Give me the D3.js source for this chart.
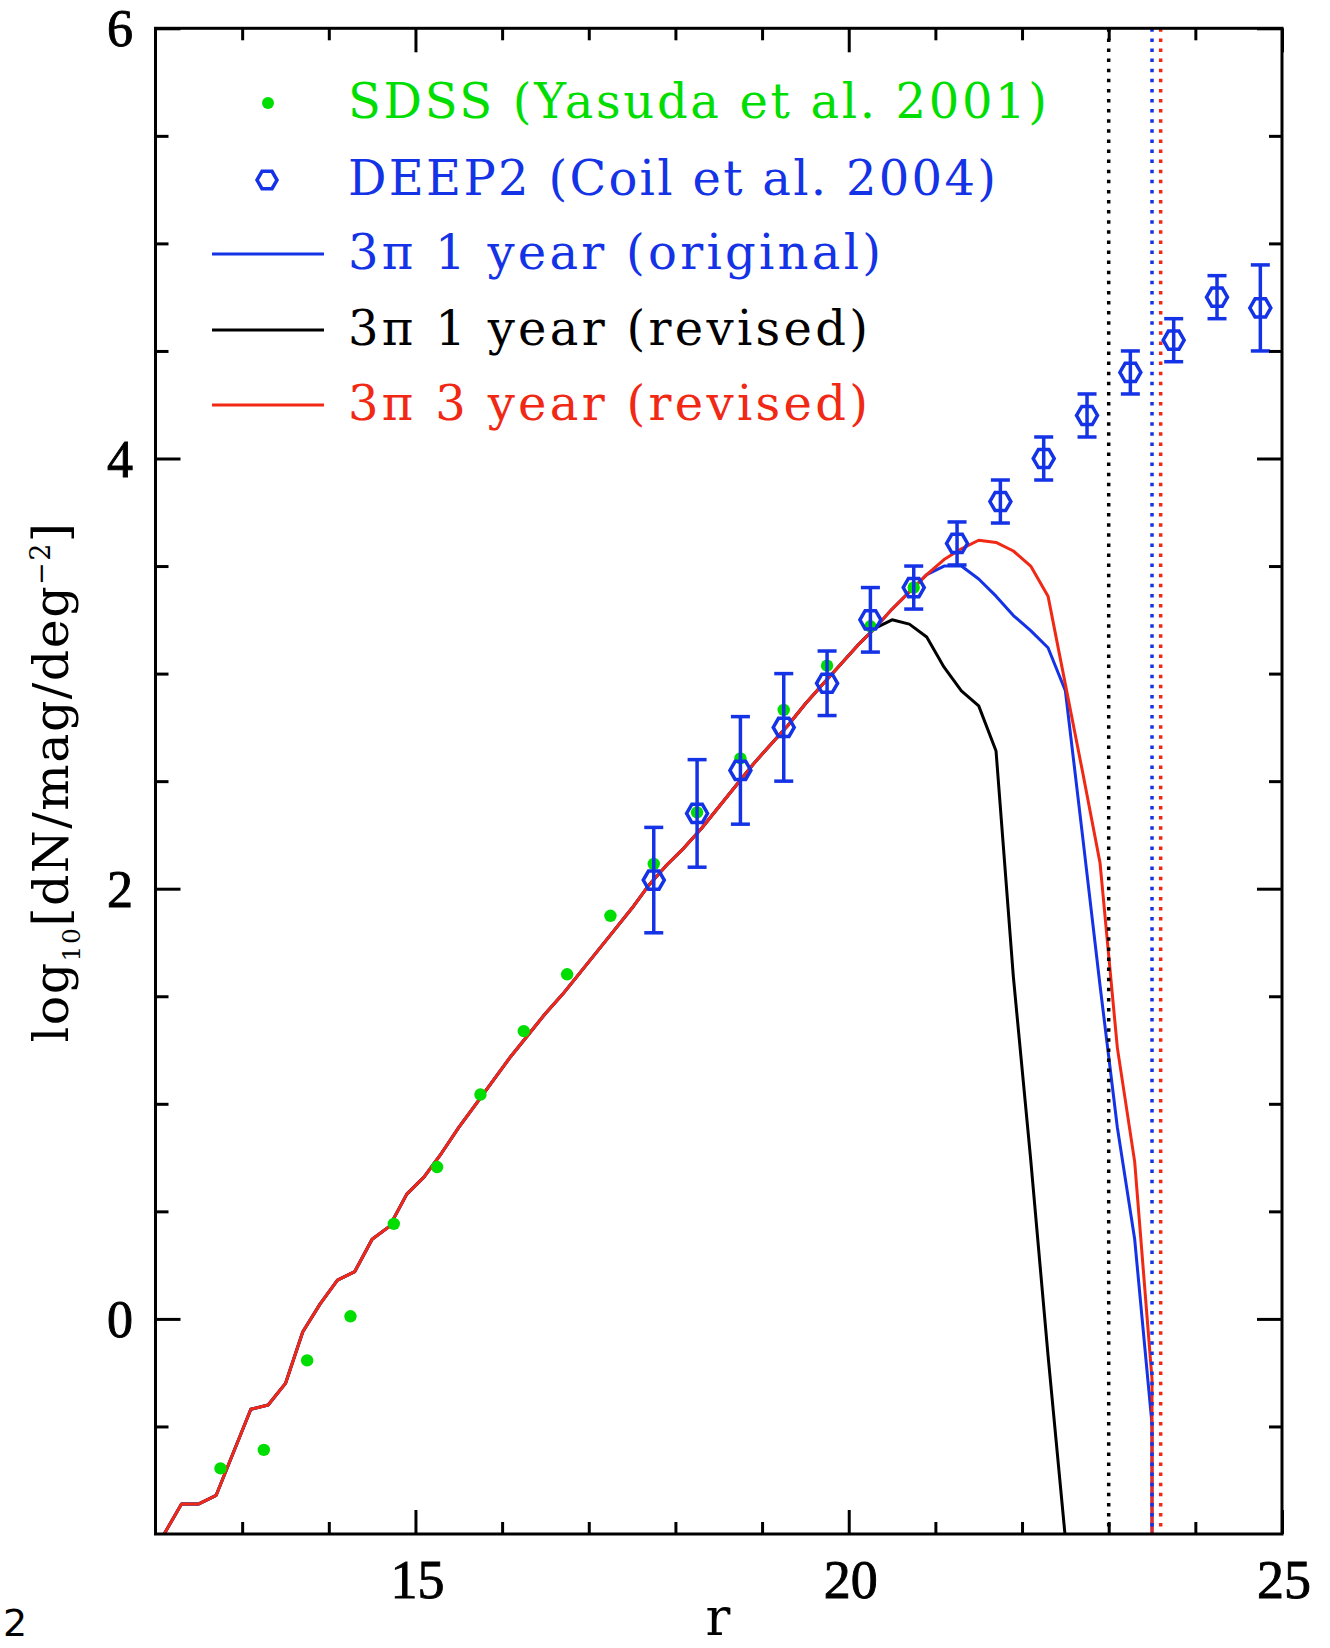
<!DOCTYPE html>
<html><head><meta charset="utf-8">
<script src="https://cdn.jsdelivr.net/npm/d3@7"></script>
<style>html,body{margin:0;padding:0;background:#fff;} svg{display:block;}</style>
</head><body>
<script>
// ---------- data ----------
const rGrid = [12.1,12.3,12.5,12.7,12.9,13.1,13.3,13.5,13.7,13.9,14.1,14.3,14.5,14.7,14.9,15.1,15.3,15.5,15.7,15.9,
  16.1,16.3,16.5,16.7,16.9,17.1,17.3,17.5,17.7,17.9,18.1,18.3,18.5,18.7,18.9,19.1,19.3,19.5,19.7,19.9,
  20.1,20.3,20.5,20.7,20.9,21.1,21.3,21.5,21.7,21.9,22.1,22.3,22.5,22.7,22.9,23.1,23.3,23.5];
const logRed = [-1.00,-0.86,-0.86,-0.82,-0.62,-0.42,-0.40,-0.30,-0.06,0.07,0.18,0.22,0.37,0.43,0.58,0.66,0.77,0.89,1.00,1.11,
  1.22,1.32,1.42,1.51,1.61,1.71,1.81,1.91,2.02,2.11,2.19,2.28,2.38,2.48,2.58,2.67,2.76,2.86,2.95,3.04,
  3.13,3.21,3.30,3.38,3.46,3.53,3.58,3.62,3.61,3.57,3.50,3.36,2.95,2.54,2.12,1.26,0.73,-0.28];
const logBlue = [-1.00,-0.86,-0.86,-0.82,-0.62,-0.42,-0.40,-0.30,-0.06,0.07,0.18,0.22,0.37,0.43,0.58,0.66,0.77,0.89,1.00,1.11,
  1.22,1.32,1.42,1.51,1.61,1.71,1.81,1.91,2.02,2.11,2.19,2.28,2.38,2.48,2.58,2.67,2.76,2.86,2.95,3.04,
  3.13,3.21,3.30,3.38,3.46,3.50,3.50,3.44,3.36,3.27,3.20,3.12,2.92,2.24,1.55,0.89,0.37,-0.49];
const logBlack = [-1.00,-0.86,-0.86,-0.82,-0.62,-0.42,-0.40,-0.30,-0.06,0.07,0.18,0.22,0.37,0.43,0.58,0.66,0.77,0.89,1.00,1.11,
  1.22,1.32,1.42,1.51,1.61,1.71,1.81,1.91,2.02,2.11,2.19,2.28,2.38,2.48,2.58,2.67,2.76,2.86,2.95,3.04,
  3.13,3.21,3.25,3.23,3.17,3.03,2.92,2.85,2.64,1.59,0.74,-0.17,-1.02];
// completeness cut-off: the model drops to zero counts right after its last bin
const dropEndR = 23.5;
const dropEndLog = -3;

const sdssR   = [12.75,13.25,13.75,14.25,14.75,15.25,15.75,16.25,16.75,17.25,17.75,18.25,18.75,19.25,19.75,20.25,20.75];
const sdssLog = [-0.695,-0.609,-0.193,0.012,0.442,0.706,1.043,1.338,1.602,1.874,2.115,2.355,2.606,2.831,3.037,3.22,3.40];

const deepR   = [17.75,18.25,18.75,19.25,19.75,20.25,20.75,21.25,21.75,22.25,22.75,23.25,23.75,24.25,24.75];
const deepLog = [2.04,2.35,2.55,2.75,2.955,3.25,3.40,3.605,3.80,4.00,4.20,4.40,4.55,4.75,4.70];
const deepErr = [0.245,0.25,0.25,0.25,0.15,0.15,0.10,0.10,0.10,0.10,0.10,0.10,0.10,0.10,0.20];

const limitMags   = [23.0, 23.5, 23.6];
const xMajorTicks = [15, 20, 25];
const xMinorTicks = [13,14,16,17,18,19,21,22,23,24];
const yMajorTicks = [0, 2, 4, 6];
const yMinorTicks = [-0.5,0.5,1,1.5,2.5,3,3.5,4.5,5,5.5];
const legendLabels = ["SDSS (Yasuda et al. 2001)", "DEEP2 (Coil et al. 2004)",
  "3\u03c0 1 year (original)", "3\u03c0 1 year (revised)", "3\u03c0 3 year (revised)"];

// ---------- style ----------
const GREEN = "#00dd00", BLUE = "#1432e6", RED = "#f02814", BLACK = "#000";
const FONT = "'Liberation Serif', 'Times New Roman', serif";
const FONT2 = "'DejaVu Serif', serif";

const W = 1330, H = 1648;
const svg = d3.select("body").append("svg").attr("width", W).attr("height", H)
  .style("background", "#fff");

const x = d3.scaleLinear().domain([12, 25]).range([155.5, 1282]);
const y = d3.scaleLinear().domain([-1, 6]).range([1534, 28.3]);
const [x0, x1] = x.range(); const [y0, y1] = y.range();

svg.append("defs").append("clipPath").attr("id", "plotclip")
  .append("rect").attr("x", x0).attr("y", y1).attr("width", x1 - x0).attr("height", y0 - y1);

const plot = svg.append("g").attr("clip-path", "url(#plotclip)");

// ---------- model curves ----------
const line = d3.line().x(d => x(d[0])).y(d => y(d[1]));
function series(vals, withDrop) {
  const pts = vals.map((v, i) => [rGrid[i], v]);
  if (withDrop) pts.push([dropEndR, dropEndLog]);
  return pts;
}
plot.append("path").datum(series(logBlack, false)).attr("d", line)
  .attr("fill", "none").attr("stroke", BLACK).attr("stroke-width", 3).attr("stroke-linejoin", "round");
plot.append("path").datum(series(logBlue, true)).attr("d", line)
  .attr("fill", "none").attr("stroke", BLUE).attr("stroke-width", 3).attr("stroke-linejoin", "round");
plot.append("path").datum(series(logRed, true)).attr("d", line)
  .attr("fill", "none").attr("stroke", RED).attr("stroke-width", 3).attr("stroke-linejoin", "round");

// ---------- limit lines ----------
const limitColors = [BLACK, BLUE, RED];
plot.selectAll("line.limit").data(limitMags).enter().append("line")
  .attr("x1", d => x(d)).attr("x2", d => x(d))
  .attr("y1", y(6)).attr("y2", y(-1))
  .attr("stroke", (d, i) => limitColors[i]).attr("stroke-width", 3.5)
  .attr("stroke-dasharray", "3.5 6.6");

// ---------- SDSS points ----------
plot.selectAll("circle.sdss").data(sdssR).enter().append("circle")
  .attr("cx", d => x(d)).attr("cy", (d, i) => y(sdssLog[i])).attr("r", 6.2)
  .attr("fill", GREEN);

// ---------- DEEP2 points ----------
function hexPath(cx, cy, r) {
  const p = d3.path();
  for (let k = 0; k < 6; k++) {
    const a = k * Math.PI / 3;
    const px = cx + r * Math.cos(a), py = cy + r * Math.sin(a);
    if (k === 0) p.moveTo(px, py); else p.lineTo(px, py);
  }
  p.closePath();
  return p.toString();
}
const deep = plot.append("g").attr("stroke", BLUE).attr("stroke-width", 3.5).attr("fill", "none");
deepR.forEach((r, i) => {
  const cx = x(r), top = y(deepLog[i] + deepErr[i]), bot = y(deepLog[i] - deepErr[i]);
  deep.append("line").attr("x1", cx).attr("x2", cx).attr("y1", top).attr("y2", bot);
  deep.append("line").attr("x1", cx - 9.5).attr("x2", cx + 9.5).attr("y1", top).attr("y2", top);
  deep.append("line").attr("x1", cx - 9.5).attr("x2", cx + 9.5).attr("y1", bot).attr("y2", bot);
  deep.append("path").attr("d", hexPath(cx, y(deepLog[i]), 10.5));
});

// ---------- axes ----------
function tickAxis(gen, tr) {
  const g = svg.append("g").attr("transform", tr).call(gen);
  g.select(".domain").remove();
  g.selectAll(".tick text").remove();
  g.selectAll(".tick line").attr("stroke", "#000").attr("stroke-width", 3);
}
tickAxis(d3.axisBottom(x).tickValues(xMinorTicks).tickSize(-12), `translate(0,${y0})`);
tickAxis(d3.axisBottom(x).tickValues(xMajorTicks).tickSize(-24), `translate(0,${y0})`);
tickAxis(d3.axisTop(x).tickValues(xMinorTicks).tickSize(-12), `translate(0,${y1})`);
tickAxis(d3.axisTop(x).tickValues(xMajorTicks).tickSize(-24), `translate(0,${y1})`);
tickAxis(d3.axisLeft(y).tickValues(yMinorTicks).tickSize(-13), `translate(${x0},0)`);
tickAxis(d3.axisLeft(y).tickValues(yMajorTicks).tickSize(-25), `translate(${x0},0)`);
tickAxis(d3.axisRight(y).tickValues(yMinorTicks).tickSize(-13), `translate(${x1},0)`);
tickAxis(d3.axisRight(y).tickValues(yMajorTicks).tickSize(-25), `translate(${x1},0)`);

svg.append("rect").attr("x", x0).attr("y", y1).attr("width", x1 - x0).attr("height", y0 - y1)
  .attr("fill", "none").attr("stroke", "#000").attr("stroke-width", 3);

// tick labels
svg.selectAll("text.xl").data(xMajorTicks).enter().append("text")
  .attr("x", d => x(d) + 2).attr("y", 1598).attr("text-anchor", "middle")
  .attr("font-family", FONT).attr("font-size", 54)
  .attr("stroke", "#000").attr("stroke-width", 0.9).text(d => d);
svg.selectAll("text.yl").data(yMajorTicks).enter().append("text")
  .attr("x", 133).attr("y", d => y(d) + 18).attr("text-anchor", "end")
  .attr("font-family", FONT).attr("font-size", 52)
  .attr("stroke", "#000").attr("stroke-width", 0.9).text(d => d);

// axis titles
svg.append("text").attr("x", 718).attr("y", 1635).attr("text-anchor", "middle")
  .attr("font-family", FONT2).attr("font-size", 52).text("r");

const yt = svg.append("text").attr("transform", "translate(68,782) rotate(-90)")
  .attr("text-anchor", "middle").attr("font-family", FONT2).attr("font-size", 49)
  .attr("letter-spacing", 1.5);
yt.append("tspan").text("log");
yt.append("tspan").attr("font-size", 25).attr("dy", 12).text("10");
yt.append("tspan").attr("dy", -12).text("[dN/mag/deg");
yt.append("tspan").attr("font-size", 27).attr("dy", -18).text("\u22122");
yt.append("tspan").attr("dy", 18).text("]");

// page fragment at bottom-left corner
svg.append("text").attr("x", 3).attr("y", 1636).attr("font-family", "'DejaVu Sans', sans-serif")
  .attr("font-size", 38).text("2");

// ---------- legend ----------
const legColors = [GREEN, BLUE, BLUE, BLACK, RED];
const legRows = [103, 180, 254, 330, 405];
const legEnds = [1047, 996, 881, 868, 868];
const leg = svg.append("g");
legendLabels.forEach((lab, i) => {
  const cy = legRows[i];
  if (i === 0) leg.append("circle").attr("cx", 268).attr("cy", cy).attr("r", 6).attr("fill", GREEN);
  else if (i === 1) leg.append("path").attr("d", hexPath(267, cy, 10)).attr("fill", "none")
      .attr("stroke", BLUE).attr("stroke-width", 3.5);
  else leg.append("line").attr("x1", 212).attr("x2", 324).attr("y1", cy).attr("y2", cy)
      .attr("stroke", legColors[i]).attr("stroke-width", 3);
  leg.append("text").attr("x", 348).attr("y", cy + 15).attr("font-family", FONT2)
    .attr("font-size", 48).attr("fill", legColors[i])
    .attr("textLength", legEnds[i] - 348).attr("lengthAdjust", "spacing").text(lab);
});
</script>
</body></html>
